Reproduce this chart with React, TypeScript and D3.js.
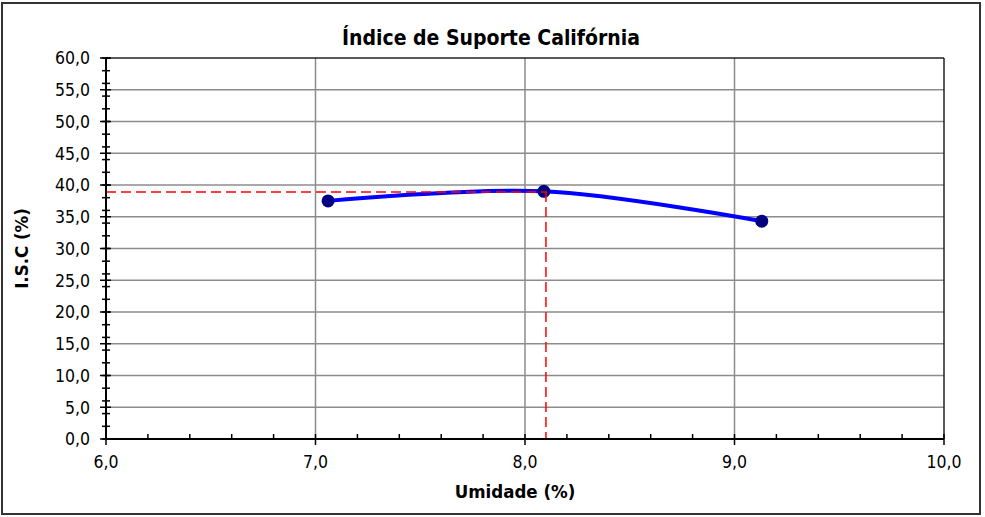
import React from "react";
import * as d3 from "d3";

const umidade = [7.06, 8.09, 9.13];
const isc = [37.5, 39.0, 34.3];
const otimo = { x: 8.1, y: 38.9 };
const xTicks = [6, 7, 8, 9, 10];
const yTicks = [0, 5, 10, 15, 20, 25, 30, 35, 40, 45, 50, 55, 60];
const title = "Índice de Suporte Califórnia";
const xLabel = "Umidade (%)";
const yLabel = "I.S.C (%)";

const W = 985, H = 517;
const M = { left: 106, top: 58, right: 944, bottom: 439 };
const FONT = "'DejaVu Sans Condensed', 'DejaVu Sans', sans-serif";

const fmt = (v: number) => v.toFixed(1).replace(".", ",");

export default function App() {
  const x = d3.scaleLinear().domain([6, 10]).range([M.left, M.right]);
  const y = d3.scaleLinear().domain([0, 60]).range([M.bottom, M.top]);
  const pts = umidade.map((u, i) => [u, isc[i]] as [number, number]);
  const line = d3
    .line<[number, number]>()
    .x((d) => x(d[0]))
    .y((d) => y(d[1]))
    .curve(d3.curveCardinal.tension(0));
  const xMinor = d3.range(6, 10.001, 0.2).filter((v) => Math.abs(v - Math.round(v)) > 0.01);
  const yMinor = d3.range(0, 60.001, 2);

  return (
    <svg width={W} height={H} style={{ position: "absolute", left: 0, top: 0 }}>
      <rect x={2} y={3} width={978} height={511} fill="#fff" stroke="#333" strokeWidth={2} />
      <text x={491} y={45} textAnchor="middle" fontFamily={FONT} fontWeight="bold" fontSize={21}>
        {title}
      </text>
      {/* grid */}
      {yTicks.slice(1, -1).map((t) => (
        <line key={"gy" + t} x1={M.left} x2={M.right} y1={y(t)} y2={y(t)} stroke="#8c8c8c" strokeWidth={1.5} />
      ))}
      {xTicks.slice(1, -1).map((t) => (
        <line key={"gx" + t} x1={x(t)} x2={x(t)} y1={M.top} y2={M.bottom} stroke="#8c8c8c" strokeWidth={1.5} />
      ))}
      {/* plot border top/right */}
      <line x1={M.left} x2={M.right} y1={M.top} y2={M.top} stroke="#222" strokeWidth={1.5} />
      <line x1={M.right} x2={M.right} y1={M.top} y2={M.bottom} stroke="#222" strokeWidth={1.5} />
      {/* series */}
      <path d={line(pts) || ""} fill="none" stroke="#0000ff" strokeWidth={4} />
      {pts.map((p, i) => (
        <circle key={i} cx={x(p[0])} cy={y(p[1])} r={6.5} fill="#000080" />
      ))}
      {/* dashed reference */}
      <line x1={M.left} x2={x(otimo.x) + 1} y1={y(otimo.y)} y2={y(otimo.y)} stroke="#ff0000" strokeWidth={1.5} strokeDasharray="10,5" />
      <line x1={x(otimo.x)} x2={x(otimo.x)} y1={y(otimo.y)} y2={M.bottom} stroke="#ff0000" strokeWidth={1.5} strokeDasharray="10,5" />
      {/* axes */}
      <line x1={M.left} x2={M.right} y1={M.bottom} y2={M.bottom} stroke="#000" strokeWidth={2} />
      <line x1={M.left} x2={M.left} y1={M.top} y2={M.bottom} stroke="#000" strokeWidth={2} />
      {xMinor.map((t) => (
        <line key={"xm" + t} x1={x(t)} x2={x(t)} y1={M.bottom - 5} y2={M.bottom} stroke="#000" strokeWidth={1.5} />
      ))}
      {xTicks.map((t) => (
        <g key={"xt" + t}>
          <line x1={x(t)} x2={x(t)} y1={M.bottom - 5} y2={M.bottom + 6} stroke="#000" strokeWidth={1.5} />
          <text x={x(t)} y={468} textAnchor="middle" fontFamily={FONT} fontSize={17.5}>
            {fmt(t)}
          </text>
        </g>
      ))}
      {yMinor.map((t) => (
        <line key={"ym" + t} x1={M.left - 4} x2={M.left + 4} y1={y(t)} y2={y(t)} stroke="#000" strokeWidth={1.5} />
      ))}
      {yTicks.map((t) => (
        <g key={"yt" + t}>
          <line x1={M.left - 6} x2={M.left + 5} y1={y(t)} y2={y(t)} stroke="#000" strokeWidth={1.5} />
          <text x={90} y={y(t)} dy="0.36em" textAnchor="end" fontFamily={FONT} fontSize={17.5}>
            {fmt(t)}
          </text>
        </g>
      ))}
      <text x={515} y={498} textAnchor="middle" fontFamily={FONT} fontWeight="bold" fontSize={18.5}>
        {xLabel}
      </text>
      <text
        transform={`translate(28, ${(M.top + M.bottom) / 2}) rotate(-90)`}
        textAnchor="middle"
        fontFamily={FONT}
        fontWeight="bold"
        fontSize={18.5}
      >
        {yLabel}
      </text>
    </svg>
  );
}
